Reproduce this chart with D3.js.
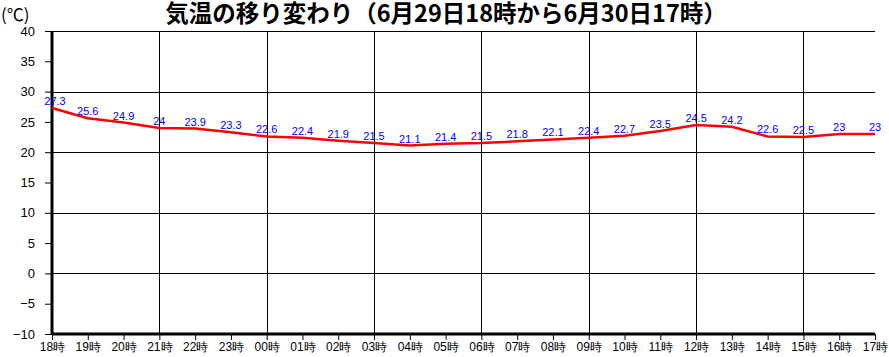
<!DOCTYPE html>
<html>
<head>
<meta charset="utf-8">
<script src="https://cdn.jsdelivr.net/npm/d3@7"></script>
<style>
  body { margin: 0; background: #fff; overflow: hidden; }
  svg { display: block; font-family: "Liberation Sans", Arial, "Noto Sans CJK JP", sans-serif; }
</style>
</head>
<body>
<div id="chart"></div>
<script>
const hours = ["18時","19時","20時","21時","22時","23時","00時","01時","02時","03時","04時","05時",
               "06時","07時","08時","09時","10時","11時","12時","13時","14時","15時","16時","17時"];
const temps = [27.3, 25.6, 24.9, 24, 23.9, 23.3, 22.6, 22.4, 21.9, 21.5, 21.1, 21.4,
               21.5, 21.8, 22.1, 22.4, 22.7, 23.5, 24.5, 24.2, 22.6, 22.5, 23, 23];
const yTicks = [-10, -5, 0, 5, 10, 15, 20, 25, 30, 35, 40];
const yGrid = [-10, 0, 10, 20, 30, 40];
const xGridIdx = [0, 3, 6, 9, 12, 15, 18, 21];
const titleText = "気温の移り変わり（6月29日18時から6月30日17時）";

const width = 889, height = 357;
const margin = {top: 31, right: 14, bottom: 23, left: 52};
const innerWidth = width - margin.left - margin.right;
const innerHeight = height - margin.top - margin.bottom;

const svg = d3.select("#chart").append("svg")
    .attr("width", width)
    .attr("height", height);

const g = svg.append("g")
    .attr("transform", `translate(${margin.left},${margin.top})`);

const x = d3.scalePoint().domain(d3.range(hours.length)).range([0, innerWidth]);
const y = d3.scaleLinear().domain([-10, 40]).range([innerHeight, 0]);

// grid
g.selectAll(".hgrid").data(yGrid).join("line")
    .attr("x1", 0).attr("x2", innerWidth)
    .attr("y1", d => Math.round(y(d)) + 0.5).attr("y2", d => Math.round(y(d)) + 0.5)
    .attr("stroke", "#000").attr("stroke-width", 1);

g.selectAll(".vgrid").data(xGridIdx).join("line")
    .attr("x1", d => Math.round(x(d)) + 0.5).attr("x2", d => Math.round(x(d)) + 0.5)
    .attr("y1", 0).attr("y2", innerHeight)
    .attr("stroke", "#000").attr("stroke-width", 1);

// axes
const yAxis = g.append("g")
    .call(d3.axisLeft(y).tickValues(yTicks).tickSize(7).tickPadding(10).tickFormat(d3.format("d")));
yAxis.select(".domain").remove();
yAxis.selectAll("text").style("font-size", "13px").attr("fill", "#000");

const xAxis = g.append("g")
    .attr("transform", `translate(0,${innerHeight})`)
    .call(d3.axisBottom(x).tickSize(6).tickPadding(2).tickFormat(i => hours[i]));
xAxis.select(".domain").remove();
xAxis.selectAll("text").style("font-size", "12px").attr("fill", "#000");

g.append("line")
    .attr("x1", 0).attr("x2", 0).attr("y1", 0).attr("y2", innerHeight + 1)
    .attr("stroke", "#000").attr("stroke-width", 3);
g.append("line")
    .attr("x1", 0).attr("x2", innerWidth).attr("y1", innerHeight).attr("y2", innerHeight)
    .attr("stroke", "#000").attr("stroke-width", 3);

// temperature line
const line = d3.line()
    .x((d, i) => x(i))
    .y(d => y(d));

g.append("path")
    .datum(temps)
    .attr("d", line)
    .attr("fill", "none")
    .attr("stroke", "#ff0000")
    .attr("stroke-width", 2.5);

// value labels
g.selectAll(".val").data(temps).join("text")
    .attr("x", (d, i) => i === 0 ? x(i) + 3 : x(i))
    .attr("y", d => y(d) - 3)
    .attr("text-anchor", "middle")
    .style("font-size", "11px")
    .attr("fill", "#0000ff")
    .text(d => d);

// title and unit
svg.append("text")
    .attr("x", 446).attr("y", 22)
    .attr("text-anchor", "middle")
    .style("font-family", "'Noto Sans CJK JP', sans-serif")
    .style("font-size", "23.5px")
    .style("font-weight", "bold")
    .text(titleText);

svg.append("text")
    .attr("x", 1).attr("y", 21)
    .style("font-size", "17px")
    .style("font-family", "'Noto Sans CJK JP', sans-serif")
    .text("(℃)");
</script>
</body>
</html>
